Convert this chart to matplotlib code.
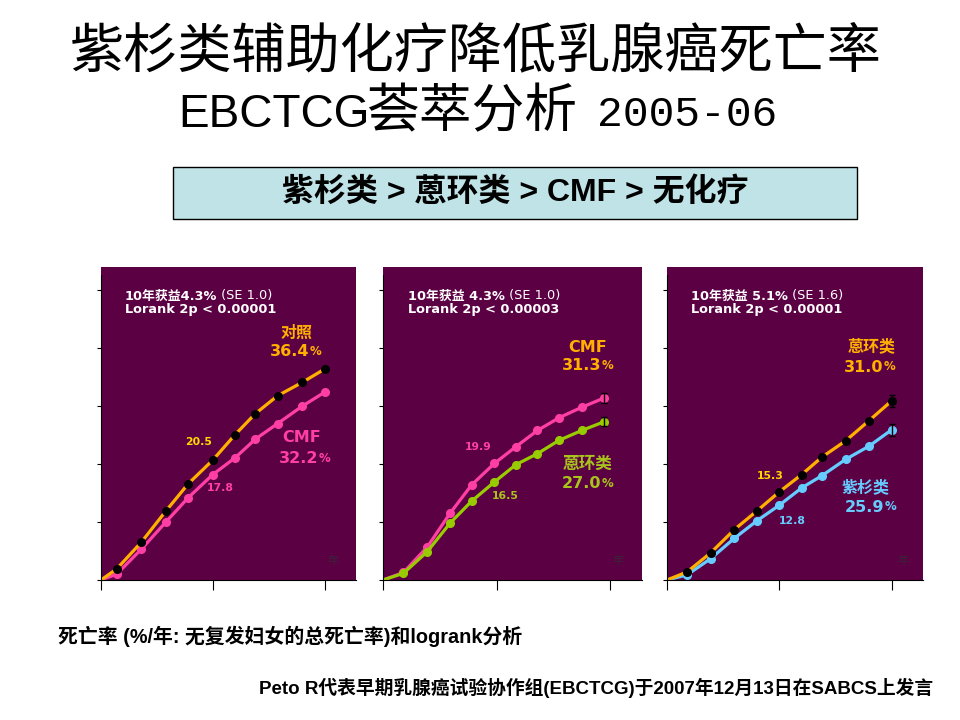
import matplotlib
matplotlib.use('Agg')
import matplotlib.pyplot as plt
from matplotlib.patches import Rectangle
from matplotlib.text import Annotation

CJK = 'Noto Sans CJK SC'
plt.rcParams['font.family'] = ['DejaVu Sans', CJK]

# data (cumulative mortality %, by year)
years1 = [0, 0.7, 1.8, 2.9, 3.9, 5.0, 6.0, 6.9, 7.9, 9.0, 10.0]
control1 = [0, 1.9, 6.5, 11.9, 16.6, 20.7, 25.1, 28.7, 31.8, 34.1, 36.4]
cmf1 = [0, 1.0, 5.3, 10.0, 14.2, 18.2, 21.1, 24.3, 27.0, 30.0, 32.4]

years2 = [0, 0.9, 1.95, 2.95, 3.9, 4.9, 5.85, 6.8, 7.75, 8.75, 9.73]
cmf2 = [0, 1.3, 5.7, 11.5, 16.4, 20.1, 23.0, 25.8, 28.0, 29.8, 31.4]
anthra2 = [0, 1.15, 4.9, 9.8, 13.6, 16.9, 19.9, 21.8, 24.1, 25.8, 27.3]

years3 = [0, 0.9, 1.95, 3.0, 4.0, 5.0, 6.0, 6.9, 7.95, 9.0, 10.0]
anthra3 = [0, 1.4, 4.7, 8.7, 11.9, 15.2, 18.2, 21.2, 24.0, 27.5, 30.9]
taxane3 = [0, 0.9, 3.7, 7.2, 10.2, 12.9, 15.9, 18.0, 20.8, 23.1, 25.9]

se_end2 = [0.8, 0.8]
se_end3 = [1.1, 1.1]

stats = [("10年获益4.3%", "(SE 1.0)", "Lorank 2p < 0.00001"),
         ("10年获益 4.3%", "(SE 1.0)", "Lorank 2p < 0.00003"),
         ("10年获益 5.1%", "(SE 1.6)", "Lorank 2p < 0.00001")]

purple = '#5c0044'
orange = '#ffb000'
yellow = '#ffd800'
pink = '#ff3fa4'
green = '#99cc00'
green_txt = '#a8c41c'
blue = '#66ccff'

W, H = 960, 720
fig = plt.figure(figsize=(W / 100, H / 100), dpi=100)


def ptext(x, y, s, **kw):
    kw.setdefault('ha', 'center')
    kw.setdefault('va', 'center')
    return fig.text(x / W, 1 - y / H, s, **kw)


def after(t, s, xy=(1, 0), **kw):
    # text placed right after another text artist, at figure level
    a = Annotation(s, xy=xy, xycoords=t, ha='left', va='bottom', **kw)
    a.set_zorder(4)
    fig.add_artist(a)
    return a


def pct_label(x, y, num, color):
    t = ptext(x, y, num, ha='left', color=color, fontsize=11.5, fontweight='bold')
    after(t, '%', xy=(1, 0.12), color=color, fontsize=8.5, fontweight='bold')
    return t


# title
ptext(476, 52, "紫杉类辅助化疗降低乳腺癌死亡率", fontsize=39, family=CJK)
ptext(178, 115, "EBCTCG", ha='left', fontsize=33, family='Liberation Sans')
ptext(366, 112, "荟萃分析", ha='left', fontsize=38, family=CJK)
ptext(597, 115, "2005-06", ha='left', fontsize=31, family='Liberation Mono')

# box
fig.patches.append(Rectangle((173 / W, 1 - 219 / H), 684 / W, 52 / H,
                             transform=fig.transFigure, facecolor='#bfe3e6',
                             edgecolor='black', lw=1))
ptext(515, 193, "紫杉类 > 蒽环类 > CMF > 无化疗", fontsize=23, fontweight='bold',
      family=['Liberation Sans', CJK])

# panels
boxes = [(101, 356), (383, 642), (667, 923)]
top, bottom = 267, 580
axes = []
for (l, r) in boxes:
    ax = fig.add_axes([l / W, 1 - bottom / H, (r - l) / W, (bottom - top) / H])
    ax.set_facecolor(purple)
    ax.set_xlim(0, 11.4)
    ax.set_ylim(0, 54)
    ax.spines['top'].set_visible(False)
    ax.spines['right'].set_visible(False)
    ax.spines['left'].set_bounds(0, 52.6)
    ax.set_yticks([0, 10, 20, 30, 40, 50])
    ax.set_xticks([0, 5, 10])
    ax.tick_params(axis='y', direction='out', length=3, labelleft=False)
    ax.tick_params(axis='x', direction='out', length=7, labelbottom=False)
    axes.append(ax)

lw, ms = 2.3, 5.5
ax1, ax2, ax3 = axes
ax1.plot(years1, cmf1, color=pink, lw=lw, marker='o', ms=ms, markevery=slice(1, None))
ax1.plot(years1, control1, color=orange, lw=lw, marker='o', ms=ms, mfc='black',
         mec='black', markevery=slice(1, None))

ax2.plot(years2, cmf2, color=pink, lw=lw, marker='o', ms=ms, markevery=slice(1, None))
ax2.plot(years2, anthra2, color=green, lw=lw, marker='o', ms=ms, markevery=slice(1, None))
ax2.errorbar([years2[-1]] * 2, [cmf2[-1], anthra2[-1]], yerr=se_end2, fmt='none',
             ecolor='black', elinewidth=1, capsize=2)

ax3.plot(years3, taxane3, color=blue, lw=lw, marker='o', ms=ms, markevery=slice(1, None))
ax3.plot(years3, anthra3, color=orange, lw=lw, marker='o', ms=ms, mfc='black',
         mec='black', markevery=slice(1, None))
ax3.errorbar([years3[-1]] * 2, [anthra3[-1], taxane3[-1]], yerr=se_end3, fmt='none',
             ecolor='black', elinewidth=1, capsize=2)

# stats text in each panel
for l, (a, se, b) in zip([125, 408, 691], stats):
    t = ptext(l, 296, a, ha='left', color='white', fontsize=9.3, fontweight='bold')
    after(t, " " + se, color='white', fontsize=9.3)
    ptext(l, 310, b, ha='left', color='white', fontsize=9.3, fontweight='bold')

# panel 1 labels
ptext(297, 333, "对照", color=orange, fontsize=11.5, fontweight='bold')
pct_label(270, 352, "36.4", orange)
ptext(302, 438, "CMF", color=pink, fontsize=11.5, fontweight='bold')
pct_label(279, 459, "32.2", pink)
ptext(199, 442, "20.5", color=yellow, fontsize=7.8, fontweight='bold')
ptext(220, 488, "17.8", color=pink, fontsize=7.8, fontweight='bold')

# panel 2 labels
ptext(588, 347, "CMF", color=orange, fontsize=11.5, fontweight='bold')
pct_label(562, 366, "31.3", orange)
ptext(588, 464, "蒽环类", color=green_txt, fontsize=12, fontweight='bold')
pct_label(562, 484, "27.0", green_txt)
ptext(478, 447, "19.9", color=pink, fontsize=7.8, fontweight='bold')
ptext(505, 496, "16.5", color=green_txt, fontsize=7.8, fontweight='bold')

# panel 3 labels
ptext(872, 346, "蒽环类", color=orange, fontsize=11.5, fontweight='bold')
pct_label(844, 367, "31.0", orange)
ptext(865, 487, "紫杉类", color=blue, fontsize=11.5, fontweight='bold')
pct_label(845, 507, "25.9", blue)
ptext(770, 476, "15.3", color=yellow, fontsize=7.8, fontweight='bold')
ptext(792, 521, "12.8", color=blue, fontsize=7.8, fontweight='bold')

for x in (333, 618, 903):
    ptext(x, 561, "年", color='#3a2436', fontsize=8)

# footers
ptext(58, 636, "死亡率 (%/年: 无复发妇女的总死亡率)和logrank分析", ha='left',
      fontsize=14.3, fontweight='bold', family=['Liberation Sans', CJK])
ptext(933, 688, "Peto R代表早期乳腺癌试验协作组(EBCTCG)于2007年12月13日在SABCS上发言",
      ha='right', fontsize=13.5, fontweight='bold', family=['Liberation Sans', CJK])

fig.savefig('out.png', dpi=100)
